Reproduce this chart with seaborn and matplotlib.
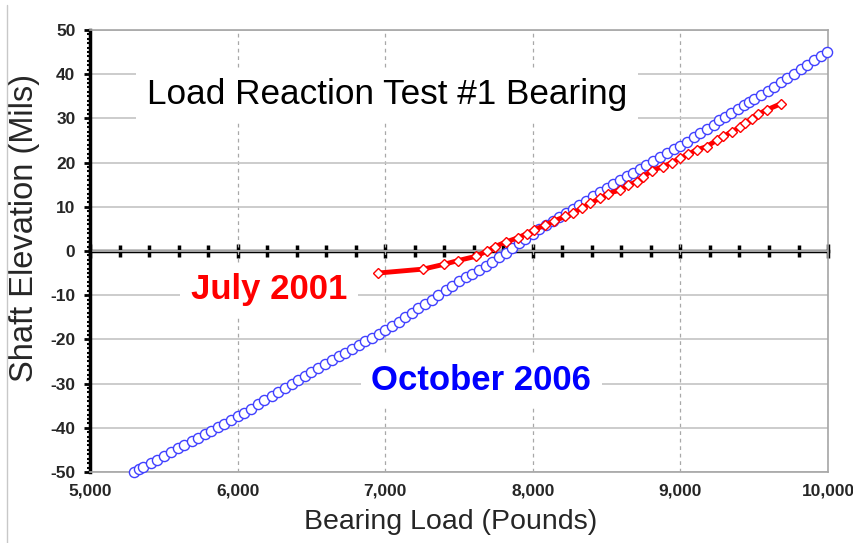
import pandas as pd
import matplotlib
matplotlib.use('Agg')
import matplotlib.pyplot as plt
import seaborn as sns
from matplotlib.ticker import FuncFormatter, MultipleLocator
from matplotlib.lines import Line2D

# July 2001 run (red)
july_load = [6949, 7258, 7400, 7490, 7615, 7690, 7744, 7815, 7900, 7958,
             8010, 8080, 8145, 8218, 8275, 8331, 8388, 8455, 8512, 8591,
             8647, 8704, 8749, 8805, 8884, 8941, 8997, 9053, 9110, 9178,
             9246, 9291, 9347, 9404, 9438, 9483, 9528, 9584, 9679]
july_elev = [-5.0, -4.1, -3.0, -2.2, -1.2, 0.0, 1.0, 2.0, 3.0, 3.9,
             4.8, 5.8, 6.8, 7.8, 8.6, 9.7, 10.8, 11.9, 13.0, 13.8,
             14.9, 15.7, 16.8, 18.2, 19.1, 20.0, 21.0, 21.9, 22.9, 23.6,
             25.1, 25.9, 27.0, 28.0, 28.9, 29.9, 31.0, 31.9, 33.3]

# October 2006 run (blue)
oct_load = [5300, 5330, 5360, 5410, 5455, 5500, 5550, 5595, 5640, 5690,
            5730, 5780, 5820, 5870, 5910, 5955, 6000, 6045, 6090, 6140,
            6180, 6230, 6275, 6320, 6370, 6410, 6455, 6500, 6545, 6590,
            6640, 6685, 6730, 6775, 6820, 6865, 6910, 6955, 7000, 7045,
            7090, 7135, 7180, 7225, 7270, 7315, 7360, 7410, 7455, 7500,
            7545, 7590, 7635, 7680, 7725, 7770, 7815, 7860, 7905, 7950,
            8000, 8045, 8090, 8135, 8180, 8225, 8270, 8315, 8360, 8410,
            8455, 8500, 8545, 8590, 8635, 8680, 8725, 8770, 8815, 8860,
            8910, 8955, 9000, 9045, 9090, 9135, 9180, 9225, 9260, 9300,
            9345, 9390, 9430, 9465, 9500, 9545, 9590, 9635, 9680, 9725,
            9770, 9815, 9860, 9905, 9950, 9990]
oct_elev = [-50.0, -49.4, -48.8, -47.9, -47.2, -46.3, -45.5, -44.6, -43.9, -43.0,
            -42.3, -41.4, -40.7, -39.9, -39.1, -38.3, -37.4, -36.6, -35.7, -34.7,
            -33.8, -32.9, -31.9, -31.0, -30.0, -29.2, -28.2, -27.4, -26.5, -25.6,
            -24.7, -23.8, -23.0, -22.1, -21.3, -20.4, -19.6, -18.8, -17.9, -17.0,
            -16.0, -15.0, -14.0, -13.0, -12.0, -11.0, -10.0, -8.9, -7.9, -6.9,
            -6.0, -5.1, -4.2, -3.3, -2.4, -1.4, -0.4, 0.6, 1.7, 2.8,
            3.9, 4.9, 5.9, 6.8, 7.7, 8.6, 9.6, 10.5, 11.4, 12.4,
            13.4, 14.3, 15.2, 16.0, 16.9, 17.7, 18.6, 19.5, 20.4, 21.2,
            22.1, 23.0, 23.8, 24.7, 25.7, 26.6, 27.5, 28.5, 29.6, 30.4,
            31.3, 32.2, 33.0, 33.8, 34.4, 35.2, 36.2, 37.2, 38.2, 39.1,
            40.1, 41.1, 42.1, 43.1, 44.1, 45.1]

sns.set_theme(style='white')
plt.rcParams['font.family'] = ['Liberation Sans', 'DejaVu Sans']
plt.rcParams['axes.unicode_minus'] = False

fig = plt.figure(figsize=(8.54, 5.43), dpi=100)
ax = fig.add_axes([0.1054, 0.1308, 0.8642, 0.814])

oct_df = pd.DataFrame({'load': oct_load, 'elev': oct_elev})
jul_df = pd.DataFrame({'load': july_load, 'elev': july_elev})

blue = '#4040ff'
sns.lineplot(data=oct_df, x='load', y='elev', ax=ax, sort=False, estimator=None,
             color=blue, linewidth=1, marker='o', markersize=7.3,
             markerfacecolor='white', markeredgecolor=blue, markeredgewidth=1,
             clip_on=False, zorder=3)
sns.lineplot(data=jul_df, x='load', y='elev', ax=ax, sort=False, estimator=None,
             color='#ff0000', linewidth=3.5, marker='D', markersize=5.2,
             markerfacecolor='white', markeredgecolor='#ff0000', markeredgewidth=1,
             zorder=4)

ax.set_xlim(5000, 10000)
ax.set_ylim(-50, 50)

# grid
ax.xaxis.set_major_locator(MultipleLocator(1000))
ax.yaxis.set_major_locator(MultipleLocator(10))
ax.yaxis.set_minor_locator(MultipleLocator(1))
ax.grid(axis='y', which='major', color='#c4c4c4', linewidth=1.2, linestyle='-')
ax.grid(axis='x', which='major', color='#a8a8a8', linewidth=0.9, linestyle=(0, (3, 3)))

ax.xaxis.set_major_formatter(FuncFormatter(lambda v, p: f'{v:,.0f}'))
ax.tick_params(axis='x', which='both', length=0, pad=8, labelsize=12.5)
ax.tick_params(axis='y', which='major', direction='out', length=4.5, width=2,
               color='black', pad=6, labelsize=12.5, left=True)
ax.tick_params(axis='y', which='minor', direction='out', length=2.5, width=1.5,
               color='black', left=True)
for lab in ax.get_xticklabels() + ax.get_yticklabels():
    lab.set_fontweight('bold')

for side in ['top', 'right', 'bottom']:
    ax.spines[side].set_color('#a6a6a6')
    ax.spines[side].set_linewidth(1.2)
ax.spines['left'].set_color('black')
ax.spines['left'].set_linewidth(2.5)

# heavy zero axis with ticks
zero = ax.secondary_xaxis(0.5)
zero.xaxis.set_major_locator(MultipleLocator(1000))
zero.xaxis.set_minor_locator(MultipleLocator(200))
zero.tick_params(which='major', direction='inout', length=10, width=2.5, color='black',
                 labeltop=False, labelbottom=False, top=True)
zero.tick_params(which='minor', direction='inout', length=8, width=2.5, color='black',
                 top=True)
for sp in zero.spines.values():
    sp.set_color('black')
    sp.set_linewidth(2.5)

ax.set_xlabel('Bearing Load (Pounds)', fontsize=20.5, va='top')
ax.xaxis.set_label_coords(0.489, -0.083)
ax.set_ylabel('Shaft Elevation (Mils)', fontsize=23.5)
ax.yaxis.set_label_coords(-0.068, 0.552)

box = dict(boxstyle='square,pad=0.3', facecolor='white', edgecolor='none')
ax.text(0.4024, 0.853, 'Load Reaction Test #1 Bearing', transform=ax.transAxes,
        ha='center', va='center', fontsize=25.3, color='black', bbox=box, zorder=5)
ax.text(0.2425, 0.412, 'July 2001', transform=ax.transAxes, ha='center', va='center',
        fontsize=25, fontweight='bold', color='#ff0000', bbox=box, zorder=5)
ax.text(0.530, 0.206, 'October 2006', transform=ax.transAxes, ha='center', va='center',
        fontsize=25, fontweight='bold', color='#0000ff', bbox=box, zorder=5)

fig.add_artist(Line2D([7 / 854, 7 / 854], [0.0, 0.99], transform=fig.transFigure,
                      color='#c8c8c8', linewidth=1))

fig.savefig('out.png', dpi=100)
